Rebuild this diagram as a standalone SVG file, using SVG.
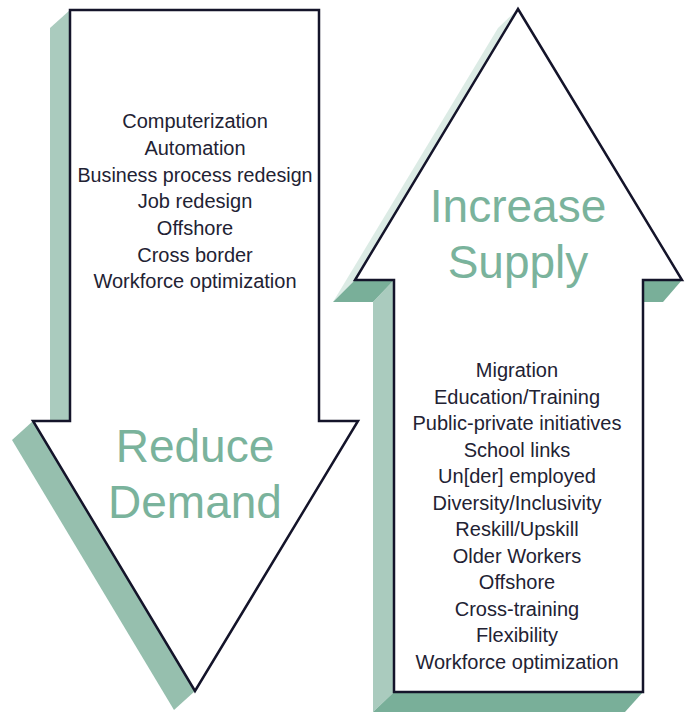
<svg xmlns="http://www.w3.org/2000/svg" width="686" height="713" viewBox="0 0 686 713">
<style>
.outline{fill:#ffffff;stroke:#14142a;stroke-width:2.5;stroke-linejoin:miter}
.sh-light{fill:#aacbbe}
.sh-mid{fill:#96bfae}
.sh-dark{fill:#79af99}
.sh-pale{fill:#dcebe5}
.item{font-family:"Liberation Sans",Arial,sans-serif;font-size:20px;fill:#222233;text-anchor:middle}
.title{font-family:"Liberation Sans",Arial,sans-serif;font-size:46px;fill:#7ab39c;text-anchor:middle}
</style>
<rect width="686" height="713" fill="#ffffff"/>
<g id="reduce-demand">
  <polygon class="sh-light" points="50,28 70,10 70,421 50,421"/>
  <polygon class="sh-mid" points="33,421 195,691 174,710 12,440"/>
  <polygon class="outline" points="70,10 319,10 319,421 358,421 195,691 33,421 70,421"/>
  <text class="item" x="195" y="128">Computerization</text>
  <text class="item" x="195" y="155">Automation</text>
  <text class="item" x="195" y="182" textLength="235" lengthAdjust="spacingAndGlyphs">Business process redesign</text>
  <text class="item" x="195" y="208">Job redesign</text>
  <text class="item" x="195" y="235">Offshore</text>
  <text class="item" x="195" y="262">Cross border</text>
  <text class="item" x="195" y="288">Workforce optimization</text>
  <text class="title" x="195" y="462">Reduce</text>
  <text class="title" x="195" y="518">Demand</text>
</g>
<g id="increase-supply">
  <polygon class="sh-pale" points="518,9 355,280 333,302 498,28"/>
  <polygon class="sh-light" points="394,280 394,692 373,712 373,302"/>
  <polygon class="sh-dark" points="355,280 394,280 373,302 333,302"/>
  <polygon class="sh-dark" points="394,692 643,692 625,712 373,712"/>
  <polygon class="sh-dark" points="643,280 682,280 663,302 643,302"/>
  <polygon class="outline" points="518,9 682,280 643,280 643,692 394,692 394,280 355,280"/>
  <text class="title" x="518" y="222">Increase</text>
  <text class="title" x="518" y="278">Supply</text>
  <text class="item" x="517" y="377">Migration</text>
  <text class="item" x="517" y="404">Education/Training</text>
  <text class="item" x="517" y="430">Public-private initiatives</text>
  <text class="item" x="517" y="457">School links</text>
  <text class="item" x="517" y="483">Un[der] employed</text>
  <text class="item" x="517" y="510">Diversity/Inclusivity</text>
  <text class="item" x="517" y="536">Reskill/Upskill</text>
  <text class="item" x="517" y="563">Older Workers</text>
  <text class="item" x="517" y="589">Offshore</text>
  <text class="item" x="517" y="616">Cross-training</text>
  <text class="item" x="517" y="642">Flexibility</text>
  <text class="item" x="517" y="669">Workforce optimization</text>
</g>
<g id="connectors"></g>
</svg>
